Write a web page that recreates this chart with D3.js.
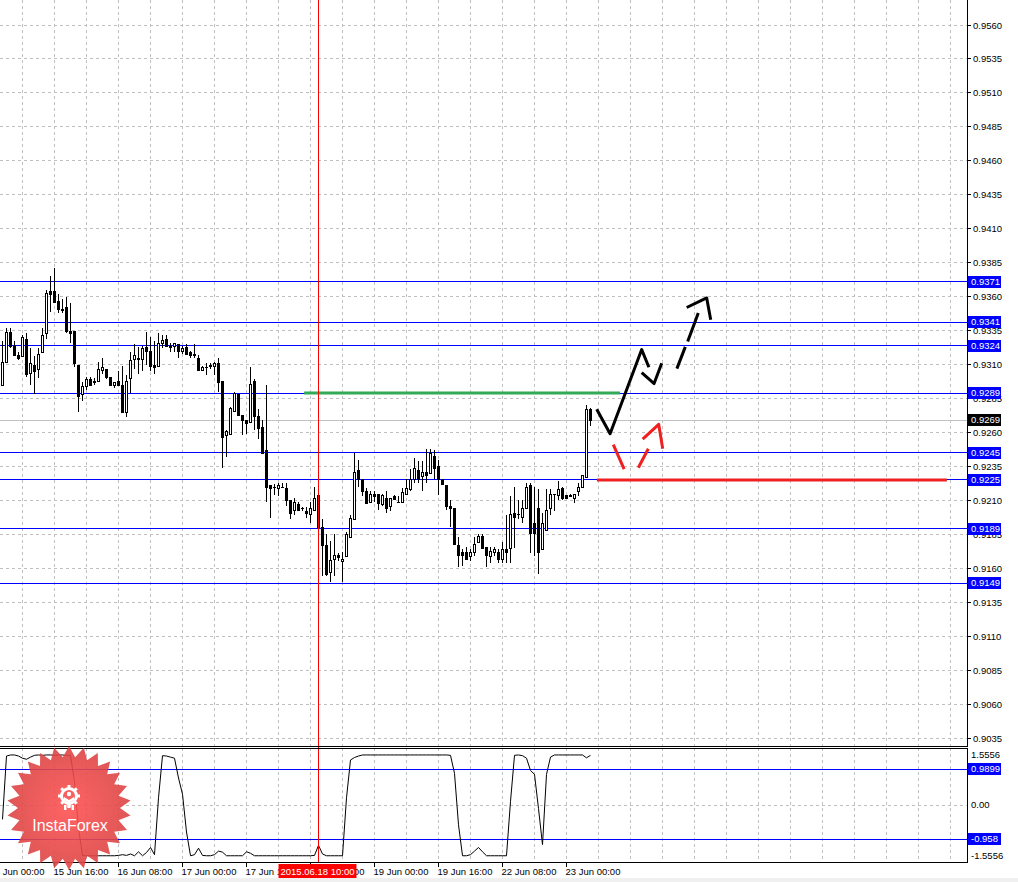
<!DOCTYPE html>
<html>
<head>
<meta charset="utf-8">
<title>USDCHF H1</title>
<script src="https://d3js.org/d3.v7.min.js"></script>
<style>
  body { margin: 0; background: #fff; }
  text { font-family: "Liberation Sans", Arial, sans-serif; font-size: 9.5px; }
</style>
</head>
<body>
<svg width="1018" height="882"></svg>
<script>
// ---- data -------------------------------------------------------------
var opens = [0.9295,0.9312,0.9334,0.9324,0.9317,0.9316,0.9329,0.9304,0.9310,0.9307,
  0.9319,0.9333,0.9364,0.9364,0.9357,0.9351,0.9352,0.9335,0.9335,0.9310,
  0.9288,0.9294,0.9299,0.9298,0.9298,0.9306,0.9307,0.9301,0.9295,0.9298,
  0.9295,0.9275,0.9300,0.9314,0.9315,0.9314,0.9323,0.9320,0.9310,0.9309,
  0.9326,0.9329,0.9324,0.9324,0.9325,0.9320,0.9323,0.9319,0.9318,0.9315,
  0.9306,0.9308,0.9310,0.9309,0.9311,0.9298,0.9258,0.9259,0.9276,0.9288,
  0.9273,0.9269,0.9268,0.9298,0.9272,0.9264,0.9247,0.9221,0.9220,0.9219,
  0.9220,0.9219,0.9210,0.9203,0.9207,0.9204,0.9202,0.9200,0.9203,0.9214,
  0.9190,0.9177,0.9157,0.9167,0.9170,0.9165,0.9169,0.9183,0.9196,0.9232,
  0.9225,0.9217,0.9209,0.9215,0.9215,0.9207,0.9212,0.9206,0.9213,0.9209,
  0.9209,0.9215,0.9218,0.9226,0.9232,0.9228,0.9231,0.9230,0.9243,0.9235,
  0.9225,0.9221,0.9206,0.9204,0.9177,0.9172,0.9172,0.9169,0.9172,0.9179,
  0.9184,0.9176,0.9169,0.9172,0.9172,0.9167,0.9174,0.9175,0.9201,0.9200,
  0.9198,0.9204,0.9221,0.9193,0.9204,0.9174,0.9188,0.9204,0.9215,0.9214,
  0.9219,0.9214,0.9213,0.9212,0.9217,0.9220,0.9227,0.9277];
var highs = [0.9327,0.9337,0.9337,0.9327,0.9319,0.9332,0.9333,0.9322,0.9316,0.9322,
  0.9337,0.9365,0.9375,0.9381,0.9362,0.9358,0.9360,0.9355,0.9335,0.9310,
  0.9297,0.9301,0.9301,0.9300,0.9312,0.9315,0.9307,0.9301,0.9297,0.9305,
  0.9309,0.9302,0.9319,0.9325,0.9323,0.9324,0.9334,0.9330,0.9327,0.9333,
  0.9332,0.9332,0.9326,0.9326,0.9325,0.9324,0.9325,0.9320,0.9325,0.9317,
  0.9309,0.9311,0.9311,0.9312,0.9315,0.9298,0.9262,0.9279,0.9290,0.9288,
  0.9273,0.9269,0.9308,0.9299,0.9277,0.9269,0.9295,0.9221,0.9222,0.9223,
  0.9223,0.9223,0.9210,0.9212,0.9209,0.9205,0.9205,0.9209,0.9220,0.9214,
  0.9196,0.9185,0.9180,0.9185,0.9171,0.9172,0.9187,0.9199,0.9245,0.9240,
  0.9226,0.9219,0.9217,0.9217,0.9215,0.9215,0.9217,0.9212,0.9214,0.9213,
  0.9219,0.9226,0.9233,0.9241,0.9239,0.9239,0.9248,0.9248,0.9247,0.9240,
  0.9226,0.9221,0.9210,0.9204,0.9183,0.9174,0.9176,0.9174,0.9183,0.9185,
  0.9185,0.9176,0.9176,0.9176,0.9174,0.9179,0.9199,0.9213,0.9220,0.9210,
  0.9210,0.9223,0.9223,0.9220,0.9218,0.9201,0.9218,0.9218,0.9215,0.9224,
  0.9220,0.9214,0.9215,0.9215,0.9223,0.9229,0.9280,0.9278];
var lows = [0.9294,0.9312,0.9322,0.9316,0.9313,0.9316,0.9301,0.9295,0.9288,0.9300,
  0.9319,0.9329,0.9349,0.9355,0.9348,0.9348,0.9333,0.9326,0.9308,0.9275,
  0.9283,0.9291,0.9294,0.9295,0.9298,0.9303,0.9299,0.9294,0.9293,0.9294,
  0.9274,0.9271,0.9289,0.9307,0.9303,0.9305,0.9310,0.9305,0.9303,0.9308,
  0.9322,0.9324,0.9319,0.9319,0.9315,0.9318,0.9317,0.9315,0.9315,0.9306,
  0.9306,0.9302,0.9307,0.9302,0.9290,0.9234,0.9242,0.9259,0.9275,0.9272,
  0.9258,0.9259,0.9268,0.9262,0.9255,0.9245,0.9209,0.9197,0.9214,0.9213,
  0.9219,0.9206,0.9196,0.9199,0.9202,0.9202,0.9197,0.9193,0.9203,0.9190,
  0.9154,0.9154,0.9150,0.9154,0.9165,0.9150,0.9168,0.9183,0.9196,0.9220,
  0.9213,0.9208,0.9208,0.9209,0.9203,0.9206,0.9201,0.9202,0.9210,0.9208,
  0.9209,0.9215,0.9217,0.9223,0.9223,0.9217,0.9223,0.9230,0.9226,0.9214,
  0.9221,0.9203,0.9190,0.9177,0.9161,0.9162,0.9166,0.9165,0.9169,0.9179,
  0.9174,0.9161,0.9164,0.9169,0.9164,0.9164,0.9164,0.9164,0.9175,0.9196,
  0.9193,0.9204,0.9171,0.9169,0.9156,0.9174,0.9188,0.9199,0.9202,0.9210,
  0.9210,0.9211,0.9213,0.9208,0.9213,0.9220,0.9227,0.9265];
var closes = [0.9312,0.9334,0.9324,0.9317,0.9315,0.9330,0.9303,0.9311,0.9305,0.9318,
  0.9332,0.9363,0.9362,0.9356,0.9351,0.9350,0.9335,0.9333,0.9311,0.9287,
  0.9294,0.9299,0.9295,0.9297,0.9307,0.9308,0.9301,0.9295,0.9297,0.9295,
  0.9275,0.9298,0.9313,0.9317,0.9314,0.9322,0.9320,0.9309,0.9308,0.9326,
  0.9328,0.9324,0.9323,0.9326,0.9320,0.9322,0.9318,0.9317,0.9317,0.9306,
  0.9308,0.9308,0.9309,0.9311,0.9297,0.9257,0.9261,0.9278,0.9289,0.9273,
  0.9269,0.9267,0.9296,0.9272,0.9263,0.9245,0.9220,0.9219,0.9220,0.9221,
  0.9220,0.9210,0.9201,0.9209,0.9203,0.9204,0.9201,0.9204,0.9212,0.9190,
  0.9177,0.9156,0.9166,0.9170,0.9168,0.9167,0.9185,0.9197,0.9231,0.9226,
  0.9217,0.9208,0.9215,0.9213,0.9208,0.9214,0.9204,0.9212,0.9211,0.9209,
  0.9216,0.9219,0.9226,0.9234,0.9226,0.9231,0.9229,0.9245,0.9234,0.9226,
  0.9222,0.9206,0.9204,0.9178,0.9170,0.9170,0.9167,0.9172,0.9178,0.9184,
  0.9175,0.9170,0.9173,0.9174,0.9167,0.9174,0.9172,0.9200,0.9198,0.9200,
  0.9204,0.9220,0.9186,0.9186,0.9172,0.9193,0.9203,0.9215,0.9215,0.9218,
  0.9212,0.9212,0.9214,0.9215,0.9220,0.9229,0.9277,0.9269];

// oscillator in the lower window
var oscValues = [-0.40,1.36,1.39,1.39,1.36,1.30,1.27,1.33,1.38,1.39,
  1.38,1.39,1.39,1.38,1.39,1.39,1.38,1.37,0.65,-0.65,
  -1.40,-1.41,-1.41,-1.41,-1.41,-1.41,-1.41,-1.41,-1.41,-1.40,
  -1.38,-1.40,-1.36,-1.41,-1.30,-1.41,-1.32,-1.18,-1.38,0.20,
  1.37,1.36,1.33,1.30,0.75,0.30,-0.75,-1.41,-1.38,-1.20,
  -1.40,-1.41,-1.41,-1.38,-1.28,-1.31,-1.41,-1.41,-1.41,-1.41,
  -1.41,-1.30,-1.34,-1.41,-1.41,-1.41,-1.41,-1.41,-1.41,-1.41,
  -1.41,-1.41,-1.41,-1.41,-1.41,-1.41,-1.41,-1.41,-1.40,-1.12,
  -1.36,-1.41,-1.41,-1.41,-1.41,-1.41,0.20,1.25,1.32,1.36,
  1.39,1.39,1.39,1.39,1.39,1.39,1.39,1.39,1.39,1.39,
  1.39,1.39,1.39,1.39,1.39,1.39,1.39,1.39,1.39,1.39,
  1.39,1.39,1.38,0.88,-0.55,-1.41,-1.41,-1.38,-1.28,-1.18,
  -1.30,-1.41,-1.41,-1.41,-1.41,-1.41,-1.41,0.10,1.38,1.39,
  1.37,1.30,0.96,0.85,-0.10,-1.10,0.85,1.33,1.39,1.39,
  1.39,1.39,1.39,1.39,1.39,1.39,1.31,1.38];

var priceTicks = ["0.9560","0.9535","0.9510","0.9485","0.9460","0.9435","0.9410","0.9385",
  "0.9360","0.9335","0.9310","0.9285","0.9260","0.9235","0.9210","0.9185","0.9160",
  "0.9135","0.9110","0.9085","0.9060","0.9035"];
var levels = ["0.9371","0.9341","0.9324","0.9289","0.9245","0.9225","0.9189","0.9149"];
var lastPrice = "0.9269";
var oscTicks = ["1.5556","0.00","-1.5556"];
var oscLevels = ["0.9899","-0.958"];
var timeLabels = ["15 Jun 00:00","15 Jun 16:00","16 Jun 08:00","17 Jun 00:00","17 Jun 16:00",
  "18 Jun 08:00","19 Jun 00:00","19 Jun 16:00","22 Jun 08:00","23 Jun 00:00"];
var timeBars = [-3,13,29,45,61,77,93,109,125,141];
var markerBar = 79, markerLabel = "2015.06.18 10:00";

// drawn objects: [bar, price]
var greenSeg = [[75.4,0.9289],[154.4,0.9289]];
var redSeg = [[148.6,0.9225],[236.1,0.9225]];
var blackSolid = [
  [[148.55,0.9277],[151.9,0.9259],[159.8,0.9321],[161.6,0.9308]],
  [[159.8,0.9304],[162.9,0.9296],[164.8,0.9311]],
  [[168.6,0.9307],[170.7,0.9323]],
  [[171.3,0.9327],[173.95,0.9348]],
  [[171.05,0.9352],[176.05,0.9359],[177.05,0.9343]]];
var redSolid = [
  [[152.7,0.9251],[155.4,0.9233]],
  [[158.95,0.9234],[161.45,0.9248]],
  [[160.05,0.9255],[164.05,0.9266],[165.05,0.9248]]];

// ---- layout -----------------------------------------------------------
var svg = d3.select("svg");
var plotR = 967, mainB = 746, oscT = 748, oscB = 862;

var x = d3.scaleLinear().domain([0, 1]).range([2.5, 6.5]);
var y = d3.scaleLinear().domain([0.9035, 0.9560]).range([738, 25]);
var yo = d3.scaleLinear().domain([-1.5556, 1.5556]).range([861, 749]);
function px(v) { return Math.round(v - 0.5) + 0.5; }

svg.append("rect").attr("width", 1018).attr("height", 882).attr("fill", "#fff");
svg.append("rect").attr("y", 878).attr("width", 1018).attr("height", 4).attr("fill", "#f0f0f0");

var defs = svg.append("defs");
defs.append("clipPath").attr("id", "clipMain").append("rect")
  .attr("width", plotR).attr("height", mainB);
defs.append("clipPath").attr("id", "clipOsc").append("rect")
  .attr("y", oscT).attr("width", plotR).attr("height", oscB - oscT);

var main = svg.append("g").attr("clip-path", "url(#clipMain)");
var osc = svg.append("g").attr("clip-path", "url(#clipOsc)");

// grid
var gridBars = d3.range(5, 245, 8);
[[main, 0, mainB], [osc, oscT, oscB]].forEach(function(p) {
  p[0].append("g").selectAll("line").data(gridBars).enter().append("line")
    .attr("x1", function(d) { return px(x(d)); })
    .attr("x2", function(d) { return px(x(d)); })
    .attr("y1", p[1]).attr("y2", p[2])
    .attr("stroke", "#c0c0c0").attr("stroke-dasharray", "3,3");
});
main.append("g").selectAll("line").data(priceTicks).enter().append("line")
  .attr("x1", 0).attr("x2", plotR)
  .attr("y1", function(d) { return px(y(+d)); })
  .attr("y2", function(d) { return px(y(+d)); })
  .attr("stroke", "#c0c0c0").attr("stroke-dasharray", "3,3");
osc.append("line").attr("x1", 0).attr("x2", plotR)
  .attr("y1", px(yo(0))).attr("y2", px(yo(0)))
  .attr("stroke", "#c0c0c0").attr("stroke-dasharray", "3,3");

// horizontal levels
main.append("line").attr("x1", 0).attr("x2", plotR)
  .attr("y1", px(y(+lastPrice))).attr("y2", px(y(+lastPrice)))
  .attr("stroke", "#c0c0c0");
main.append("g").selectAll("line").data(levels).enter().append("line")
  .attr("x1", 0).attr("x2", plotR)
  .attr("y1", function(d) { return px(y(+d)); })
  .attr("y2", function(d) { return px(y(+d)); })
  .attr("stroke", "#0000ff");
osc.append("g").selectAll("line").data(oscLevels).enter().append("line")
  .attr("x1", 0).attr("x2", plotR)
  .attr("y1", function(d) { return px(yo(+d)); })
  .attr("y2", function(d) { return px(yo(+d)); })
  .attr("stroke", "#0000ff");

// candles
var bars = opens.map(function(o, i) {
  return {i: i, o: o, h: highs[i], l: lows[i], c: closes[i]};
});
var cg = main.append("g");
bars.forEach(function(b) {
  var cx = px(x(b.i));
  var top = Math.round(y(Math.max(b.o, b.c)));
  var bot = Math.round(y(Math.min(b.o, b.c)));
  var hi = Math.round(y(b.h)), lo = Math.round(y(b.l));
  cg.append("line").attr("x1", cx).attr("x2", cx)
    .attr("y1", Math.min(hi, top)).attr("y2", Math.max(lo, bot + 1))
    .attr("stroke", "#000");
  if (bot - top < 1) {
    cg.append("rect").attr("x", cx - 1.5).attr("y", top).attr("width", 3).attr("height", 1).attr("fill", "#000");
  } else if (b.c >= b.o) {
    cg.append("rect").attr("x", cx - 1).attr("y", top + 0.5)
      .attr("width", 2).attr("height", bot - top)
      .attr("fill", "#fff").attr("stroke", "#000");
  } else {
    cg.append("rect").attr("x", cx - 1.5).attr("y", top)
      .attr("width", 3).attr("height", bot - top + 1).attr("fill", "#000");
  }
});

// drawn lines
var line = d3.line().x(function(d) { return x(d[0]); }).y(function(d) { return y(d[1]); });
main.append("path").attr("d", line(greenSeg)).attr("stroke", "#33aa55").attr("stroke-width", 3).attr("fill", "none");
main.append("path").attr("d", line(redSeg)).attr("stroke", "#ee2020").attr("stroke-width", 3).attr("fill", "none");
main.append("g").selectAll("path").data(blackSolid).enter().append("path")
  .attr("d", line).attr("stroke", "#000").attr("stroke-width", 3)
  .attr("fill", "none").attr("stroke-linejoin", "round");
main.append("g").selectAll("path").data(redSolid).enter().append("path")
  .attr("d", line).attr("stroke", "#ee2020").attr("stroke-width", 3)
  .attr("fill", "none").attr("stroke-linejoin", "round");

// oscillator
osc.append("path")
  .attr("d", d3.line().x(function(d, i) { return x(i); }).y(function(d) { return yo(d); })(oscValues))
  .attr("fill", "none").attr("stroke", "#000").attr("stroke-width", 1);

// marker line
svg.append("line").attr("x1", px(x(markerBar))).attr("x2", px(x(markerBar)))
  .attr("y1", 0).attr("y2", oscB).attr("stroke", "#ff0000");

// frames
var frame = svg.append("g").attr("stroke", "#000");
frame.append("line").attr("x1", plotR + 0.5).attr("x2", plotR + 0.5).attr("y1", 0).attr("y2", mainB + 1);
frame.append("line").attr("x1", plotR + 0.5).attr("x2", plotR + 0.5).attr("y1", oscT).attr("y2", oscB + 1);
frame.append("line").attr("x1", 0).attr("x2", plotR + 1).attr("y1", mainB + 0.5).attr("y2", mainB + 0.5);
frame.append("line").attr("x1", 0).attr("x2", plotR + 1).attr("y1", oscT + 0.5).attr("y2", oscT + 0.5);
frame.append("line").attr("x1", 0).attr("x2", plotR + 1).attr("y1", oscB + 0.5).attr("y2", oscB + 0.5);

// price axis
var ax = svg.append("g");
priceTicks.forEach(function(t) {
  var yy = px(y(+t));
  ax.append("line").attr("x1", plotR).attr("x2", plotR + 4).attr("y1", yy).attr("y2", yy).attr("stroke", "#000");
  ax.append("text").attr("x", plotR + 6).attr("y", yy).attr("dy", "0.35em").text(t);
});
function box(v, yy, fill) {
  ax.append("rect").attr("x", plotR + 1).attr("y", Math.round(yy) - 6)
    .attr("width", 33).attr("height", 12).attr("fill", fill);
  ax.append("text").attr("x", plotR + 4).attr("y", Math.round(yy)).attr("dy", "0.35em")
    .attr("fill", "#fff").text(v);
}
levels.forEach(function(v) { box(v, y(+v), "#0000ff"); });
box(lastPrice, y(+lastPrice), "#000");

oscTicks.forEach(function(t) {
  var yy = Math.min(Math.max(yo(+t), oscT + 7), oscB - 6);
  ax.append("text").attr("x", plotR + 4).attr("y", yy).attr("dy", "0.35em").text(t);
});
oscLevels.forEach(function(v) { box(v, yo(+v), "#0000ff"); });

// logo
var cx0 = 69, cy0 = 808, nPts = 26;
var grad = defs.append("radialGradient").attr("id", "logoGrad");
grad.append("stop").attr("offset", "0%").attr("stop-color", "#ff5252");
grad.append("stop").attr("offset", "100%").attr("stop-color", "#dc4444");
var star = d3.range(nPts * 2).map(function(i) {
  var a = i * Math.PI / nPts - Math.PI / 2, r = i % 2 ? 51 : 62;
  return [cx0 + r * Math.cos(a), cy0 + r * Math.sin(a)];
});
var logo = svg.append("g").attr("opacity", 0.9);
logo.append("path").attr("d", "M" + star.join("L") + "Z").attr("fill", "url(#logoGrad)");
var icon = svg.append("g").attr("transform", "translate(69,796)").attr("fill", "#fff");
d3.range(8).forEach(function(k) {
  icon.append("rect").attr("x", -1.5).attr("y", -11).attr("width", 3).attr("height", 4)
    .attr("transform", "rotate(" + (k * 45 - 90) + ")");
});
icon.append("circle").attr("r", 7.5).attr("fill", "none").attr("stroke", "#fff").attr("stroke-width", 3);
icon.append("circle").attr("cy", -2).attr("r", 2.2);
icon.append("path").attr("d", "M-5,1 L0,4 L5,1 L5,4 L1.5,6 L1.5,12 L-1.5,12 L-1.5,6 L-5,4 Z");
icon.append("rect").attr("x", -5).attr("y", 9).attr("width", 2.5).attr("height", 5);
icon.append("rect").attr("x", 2.5).attr("y", 9).attr("width", 2.5).attr("height", 5);
svg.append("text").attr("x", 70).attr("y", 831).attr("text-anchor", "middle")
  .attr("fill", "#fff").style("font-size", "16px").text("InstaForex");

// time axis
timeBars.forEach(function(b, k) {
  var xx = px(x(b));
  ax.append("line").attr("x1", xx).attr("x2", xx).attr("y1", oscB).attr("y2", oscB + 5).attr("stroke", "#000");
  ax.append("text").attr("x", xx - 1).attr("y", 875).text(timeLabels[k]);
});
var mx = px(x(markerBar));
ax.append("rect").attr("x", mx - 40).attr("y", 864).attr("width", 78).attr("height", 14).attr("fill", "#ff0000");
ax.append("text").attr("x", mx - 1).attr("y", 875).attr("text-anchor", "middle")
  .attr("fill", "#fff").text(markerLabel);
</script>
</body>
</html>
